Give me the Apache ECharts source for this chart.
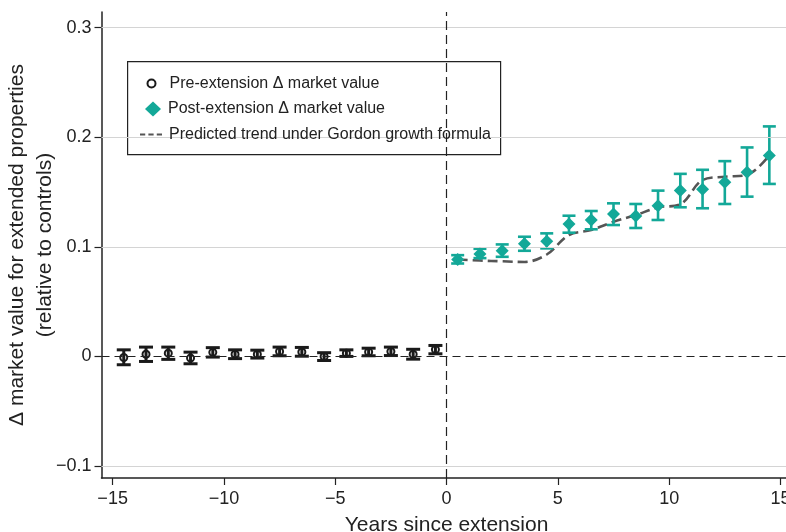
<!DOCTYPE html>
<html>
<head>
<meta charset="utf-8">
<style>
  html, body { margin: 0; padding: 0; background: #fff; }
  #chart { width: 786px; height: 532px; }
</style>
<script src="https://cdn.jsdelivr.net/npm/echarts@6/dist/echarts.min.js"></script>
</head>
<body>
<div id="chart"></div>
<script>
// ---- data ----
const preYears  = [-14.5, -13.5, -12.5, -11.5, -10.5, -9.5, -8.5, -7.5, -6.5, -5.5, -4.5, -3.5, -2.5, -1.5, -0.5];
const preValues = [-0.001, 0.002, 0.003, -0.0015, 0.0037, 0.002, 0.002, 0.0045, 0.004, 0.000, 0.003, 0.004, 0.0045, 0.002, 0.0063];
const preLow    = [-0.0076, -0.0046, -0.0027, -0.0067, -0.0006, -0.002, -0.0015, 0.0006, 0.0002, -0.0037, 0.0, 0.0006, 0.0008, -0.0025, 0.0024];
const preHigh   = [0.006, 0.0085, 0.0085, 0.0039, 0.008, 0.006, 0.0057, 0.0085, 0.0082, 0.0034, 0.006, 0.0075, 0.0085, 0.0065, 0.010];

const postYears  = [0.5, 1.5, 2.5, 3.5, 4.5, 5.5, 6.5, 7.5, 8.5, 9.5, 10.5, 11.5, 12.5, 13.5, 14.5];
const postValues = [0.0885, 0.0934, 0.0964, 0.1028, 0.105, 0.1208, 0.1245, 0.130, 0.1281, 0.1376, 0.1513, 0.1526, 0.159, 0.1681, 0.1834];
const postLow    = [0.0848, 0.0897, 0.0909, 0.0964, 0.0986, 0.1129, 0.116, 0.1199, 0.1172, 0.1245, 0.1361, 0.1352, 0.1391, 0.1458, 0.1574];
const postHigh   = [0.0924, 0.0982, 0.1022, 0.1092, 0.1123, 0.1284, 0.1327, 0.1397, 0.1391, 0.1513, 0.1666, 0.1703, 0.1782, 0.1907, 0.2099];
const trendValues = [0.0885, 0.0875, 0.0868, 0.0862, 0.093, 0.1108, 0.1153, 0.1229, 0.129, 0.136, 0.1388, 0.161, 0.164, 0.1657, 0.1834];

const xTicks = [-15, -10, -5, 0, 5, 10, 15];
const yTicks = [-0.1, 0, 0.1, 0.2, 0.3];
const yGridValues = [-0.1, 0.1, 0.2, 0.3];

const namePre = 'Pre-extension \u0394 market value';
const namePost = 'Post-extension \u0394 market value';
const nameTrend = 'Predicted trend under Gordon growth formula';

// ---- chart ----
const FONT = '"Liberation Sans", Arial, Helvetica, sans-serif';
const TEAL = '#13a898';
const minus = v => String(v).replace('-', '\u2212');

function errorBars(years, low, high) {
  return years.map((x, i) => [x, low[i], high[i]]);
}
function makeErrRender(color, lw, half) {
  return function (params, api) {
    const x = api.value(0);
    const p1 = api.coord([x, api.value(1)]);
    const p2 = api.coord([x, api.value(2)]);
    const style = { stroke: color, lineWidth: lw };
    return {
      type: 'group',
      children: [
        { type: 'line', shape: { x1: p1[0], y1: p1[1], x2: p2[0], y2: p2[1] }, style },
        { type: 'line', shape: { x1: p1[0] - half, y1: p1[1], x2: p1[0] + half, y2: p1[1] }, style },
        { type: 'line', shape: { x1: p2[0] - half, y1: p2[1], x2: p2[0] + half, y2: p2[1] }, style }
      ]
    };
  };
}

const chart = echarts.init(document.getElementById('chart'), null, { renderer: 'canvas' });

const legendBase = {
  orient: 'vertical',
  padding: 0,
  selectedMode: false,
  z: 10,
  textStyle: { fontFamily: FONT, fontSize: 16, color: '#222', lineHeight: 18, padding: [0, 0, 0, 2] }
};

const option = {
  animation: false,
  backgroundColor: '#fff',
  grid: { left: 101.5, right: -5.6, top: 12, bottom: 54, containLabel: false, outerBoundsMode: 'none' },
  xAxis: {
    type: 'value',
    min: -15.5,
    max: 15.5,
    name: 'Years since extension',
    nameLocation: 'middle',
    nameGap: 37,
    nameMoveOverlap: false,
    nameTextStyle: { fontFamily: FONT, fontSize: 21, color: '#222', verticalAlign: 'top' },
    axisLine: { show: true, onZero: false, lineStyle: { color: '#222', width: 1.5 } },
    axisTick: { show: true, length: 7, customValues: xTicks, lineStyle: { color: '#222', width: 1.2 } },
    axisLabel: { customValues: xTicks, formatter: minus, margin: 12, fontFamily: FONT, fontSize: 18, color: '#222' },
    splitLine: { show: false }
  },
  yAxis: {
    type: 'value',
    min: -0.11095,
    max: 0.3143,
    name: '\u0394 market value for extended properties\n(relative to controls)',
    nameLocation: 'middle',
    nameGap: 42,
    nameMoveOverlap: false,
    nameTextStyle: { fontFamily: FONT, fontSize: 21, color: '#222', lineHeight: 28 },
    axisLine: { show: true, onZero: false, lineStyle: { color: '#222', width: 1.5 } },
    axisTick: { show: true, length: 7, customValues: yTicks, lineStyle: { color: '#222', width: 1.2 } },
    axisLabel: { customValues: yTicks, formatter: minus, margin: 10, fontFamily: FONT, fontSize: 18, color: '#222' },
    splitLine: { show: false }
  },
  legend: [
    Object.assign({}, legendBase, { left: 146.5, top: 74.5, itemWidth: 22, itemHeight: 8, data: [{ name: namePre, icon: 'circle' }] }),
    Object.assign({}, legendBase, { left: 145, top: 100, itemWidth: 16, itemHeight: 15,
      textStyle: Object.assign({}, legendBase.textStyle, { padding: [0, 0, 0, 2] }),
      data: [{ name: namePost, icon: 'diamond' }] }),
    Object.assign({}, legendBase, { left: 140, top: 125.5, itemWidth: 22, itemHeight: 2.5,
      data: [{ name: nameTrend, icon: 'path://M0,0h5v2h-5z M8,0h5v2h-5z M16,0h5v2h-5z', itemStyle: { color: '#555' } }] })
  ],
  graphic: [{
    type: 'rect', left: 127, top: 61, z: 5,
    shape: { width: 373, height: 93 },
    style: { fill: '#fff', stroke: '#222', lineWidth: 1.2 }
  }],
  series: [
    {
      type: 'line',
      name: '__ref',
      data: [],
      silent: true,
      z: 1,
      markLine: {
        silent: true,
        symbol: 'none',
        label: { show: false },
        animation: false,
        data: yGridValues.map(v => ({ yAxis: v, lineStyle: { color: '#d4d4d4', width: 1.2, type: 'solid' } }))
          .concat([
            { yAxis: 0, lineStyle: { color: '#222', width: 1.2, type: [8, 5] } },
            { xAxis: 0, lineStyle: { color: '#222', width: 1.2, type: [9, 5] } }
          ])
      }
    },
    {
      type: 'line',
      name: nameTrend,
      data: postYears.map((x, i) => [x, trendValues[i]]),
      smooth: 0.35,
      showSymbol: false,
      symbol: 'none',
      color: '#555',
      lineStyle: { color: '#555', width: 2.6, type: [10, 5] },
      z: 3
    },
    {
      type: 'scatter',
      name: namePre,
      data: preYears.map((x, i) => [x, preValues[i]]),
      symbol: 'circle',
      symbolSize: 7,
      itemStyle: { color: '#fff', borderColor: '#1a1a1a', borderWidth: 2, opacity: 1 },
      z: 3
    },
    {
      type: 'custom',
      name: 'preErr',
      data: errorBars(preYears, preLow, preHigh),
      renderItem: makeErrRender('#1a1a1a', 3, 7),
      encode: { x: 0, y: [1, 2] },
      z: 4
    },
    {
      type: 'custom',
      name: 'postErr',
      data: errorBars(postYears, postLow, postHigh),
      renderItem: makeErrRender(TEAL, 2.6, 6.5),
      encode: { x: 0, y: [1, 2] },
      z: 4
    },
    {
      type: 'scatter',
      name: namePost,
      data: postYears.map((x, i) => [x, postValues[i]]),
      symbol: 'diamond',
      symbolSize: 13,
      itemStyle: { color: TEAL, opacity: 1 },
      z: 5
    }
  ]
};

chart.setOption(option);
</script>
</body>
</html>
